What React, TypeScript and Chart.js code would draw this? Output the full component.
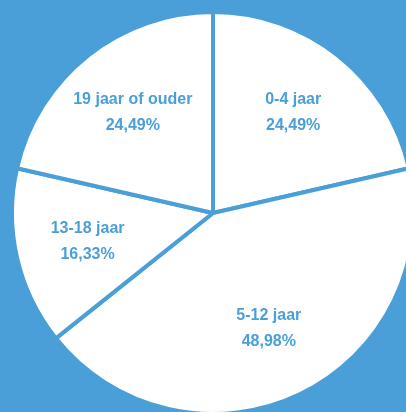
import React, { useEffect, useRef } from "react";
import { Chart, registerables } from "chart.js";

Chart.register(...registerables);

const categories: string[] = ["0-4 jaar", "5-12 jaar", "13-18 jaar", "19 jaar of ouder"];
const percentages: number[] = [24.49, 48.98, 16.33, 24.49];

const BLUE = "#4a9fd9";
const WHITE = "#ffffff";

const labelPlugin = {
  id: "sliceLabels",
  afterDatasetsDraw(chart: any) {
    const ctx = chart.ctx;
    const meta = chart.getDatasetMeta(0);
    ctx.save();
    ctx.fillStyle = BLUE;
    ctx.font = "bold 16px Arial, 'Liberation Sans', sans-serif";
    ctx.textAlign = "center";
    ctx.textBaseline = "middle";
    meta.data.forEach((arc: any, i: number) => {
      const { x, y, startAngle, endAngle, outerRadius } = arc.getProps(
        ["x", "y", "startAngle", "endAngle", "outerRadius"],
        true
      );
      const mid = (startAngle + endAngle) / 2;
      const r = outerRadius * 0.64;
      const cx = x + Math.cos(mid) * r;
      const cy = y + Math.sin(mid) * r;
      const pct = percentages[i].toFixed(2).replace(".", ",") + "%";
      ctx.fillText(categories[i], cx, cy - 13);
      ctx.fillText(pct, cx, cy + 13);
    });
    ctx.restore();
  },
};

export default function App() {
  const canvasRef = useRef<HTMLCanvasElement | null>(null);

  useEffect(() => {
    if (!canvasRef.current) return;
    const chart = new Chart(canvasRef.current, {
      type: "pie",
      data: {
        labels: categories,
        datasets: [
          {
            data: percentages,
            backgroundColor: categories.map(() => WHITE),
            borderColor: BLUE,
            borderWidth: 4,
          },
        ],
      },
      options: {
        responsive: false,
        animation: false,
        layout: { padding: 10 },
        plugins: {
          legend: { display: false },
          tooltip: { enabled: false },
        },
      },
      plugins: [labelPlugin],
    });
    return () => chart.destroy();
  }, []);

  return (
    <div
      style={{
        position: "fixed",
        left: 0,
        top: 0,
        width: "100vw",
        height: "100vh",
        background: BLUE,
        overflow: "hidden",
      }}
    >
      <canvas
        ref={canvasRef}
        width={426}
        height={426}
        style={{ position: "absolute", left: 0, top: 0, width: 426, height: 426 }}
      />
    </div>
  );
}
